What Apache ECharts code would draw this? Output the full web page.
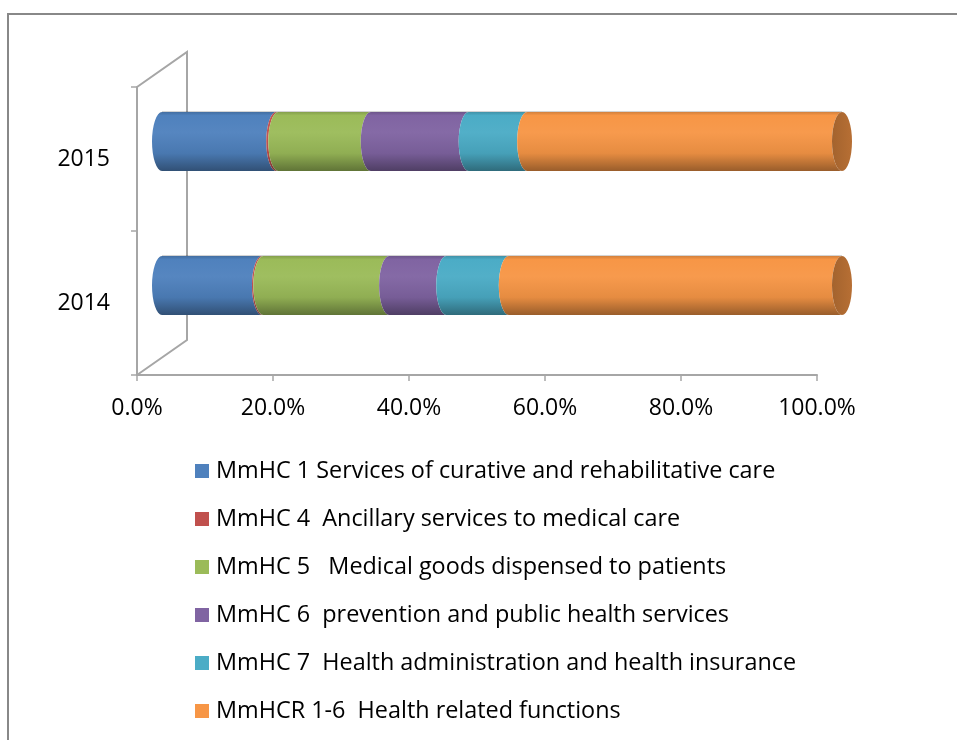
<!DOCTYPE html>
<html>
<head>
<meta charset="utf-8">
<script src="https://cdn.jsdelivr.net/npm/echarts@6/dist/echarts.min.js"></script>
<style>
  html, body { margin: 0; padding: 0; background: #ffffff; }
  #chart { width: 957px; height: 740px; }
</style>
</head>
<body>
<div id="chart"></div>
<script>
// Categories (bottom to top)
const years = ['2014', '2015'];

// Share of each function in total expenditure, percent
const seriesNames = [
  'MmHC 1 Services of curative and rehabilitative care',
  'MmHC 4  Ancillary services to medical care',
  'MmHC 5   Medical goods dispensed to patients',
  'MmHC 6  prevention and public health services',
  'MmHC 7  Health administration and health insurance',
  'MmHCR 1-6  Health related functions'
];
const mmhc1 = [14.7, 16.8];
const mmhc4 = [0.2, 0.3];
const mmhc5 = [18.5, 13.6];
const mmhc6 = [8.4, 14.4];
const mmhc7 = [9.2, 8.6];
const mmhcr = [49.0, 46.3];
const seriesValues = [mmhc1, mmhc4, mmhc5, mmhc6, mmhc7, mmhcr];

const palette = ['#4F81BD', '#C0504D', '#9BBB59', '#8064A2', '#4BACC6', '#F79646'];

// 3-D look: depth of the side wall, bars sit half way into it
const DEPTH_X = 50, DEPTH_Y = -35;
const CAP_RX = 10;
const FONT = '"Open Sans", Lato, sans-serif';

function shade(hex, f) {
  const n = parseInt(hex.slice(1), 16);
  let rgb = [(n >> 16) & 255, (n >> 8) & 255, n & 255];
  rgb = rgb.map(v => f <= 1 ? Math.round(v * f) : Math.round(v + (255 - v) * (f - 1)));
  return 'rgb(' + rgb.join(',') + ')';
}

function bodyFill(c) {
  return new echarts.graphic.LinearGradient(0, 0, 0, 1, [
    { offset: 0.00, color: shade(c, 0.85) },
    { offset: 0.06, color: shade(c, 1.00) },
    { offset: 0.35, color: shade(c, 1.04) },
    { offset: 0.70, color: shade(c, 0.93) },
    { offset: 1.00, color: shade(c, 0.62) }
  ]);
}

// Stack the shares into [start, end, categoryIndex] spans
const cumulative = years.map(() => 0);
const spans = seriesValues.map(vals => vals.map((v, i) => {
  const s = cumulative[i];
  cumulative[i] += v;
  return [s, cumulative[i], i];
}));

const LAST_SERIES = seriesValues.length; // index 0 is the wall

function renderCylinder(params, api) {
  const s = api.value(0), e = api.value(1), cat = api.value(2);
  const p0 = api.coord([s, cat]);
  const p1 = api.coord([e, cat]);
  const band = api.size([0, 1])[1];
  const r = band * 0.205;
  const xs = p0[0] + DEPTH_X / 2, xe = p1[0] + DEPTH_X / 2;
  const cy = p0[1] + DEPTH_Y / 2;
  const top = cy - r, bot = cy + r;
  const a = CAP_RX;
  const color = palette[params.seriesIndex - 1];
  const d = 'M' + xs + ',' + top + ' L' + xe + ',' + top +
            ' A' + a + ',' + r + ' 0 0 0 ' + xe + ',' + bot +
            ' L' + xs + ',' + bot +
            ' A' + a + ',' + r + ' 0 0 1 ' + xs + ',' + top + ' Z';
  const children = [{
    type: 'path',
    shape: { pathData: d },
    style: { fill: bodyFill(color) }
  }];
  if (params.seriesIndex === LAST_SERIES) {
    const cap = 'M' + xe + ',' + top +
                ' A' + a + ',' + r + ' 0 0 1 ' + xe + ',' + bot +
                ' A' + a + ',' + r + ' 0 0 1 ' + xe + ',' + top + ' Z';
    children.push({
      type: 'path',
      shape: { pathData: cap },
      style: {
        fill: new echarts.graphic.LinearGradient(0, 0, 1, 0, [
          { offset: 0, color: shade(color, 0.66) },
          { offset: 1, color: shade(color, 0.74) }
        ])
      }
    });
    // faint rim along the top edge of the whole cylinder
    const x0 = api.coord([0, cat])[0] + DEPTH_X / 2;
    children.push({
      type: 'line',
      shape: { x1: x0, y1: top - 0.5, x2: xe, y2: top - 0.5 },
      style: { stroke: 'rgba(0,0,0,0.18)', lineWidth: 1 }
    });
  }
  return { type: 'group', children: children };
}

function renderWall(params) {
  const cs = params.coordSys;
  return {
    type: 'polyline',
    shape: {
      points: [
        [cs.x, cs.y + cs.height],
        [cs.x + DEPTH_X, cs.y + cs.height + DEPTH_Y],
        [cs.x + DEPTH_X, cs.y + DEPTH_Y],
        [cs.x, cs.y]
      ]
    },
    style: { fill: 'none', stroke: '#A6A6A6', lineWidth: 2 }
  };
}

const chart = echarts.init(document.getElementById('chart'), null, { renderer: 'canvas' });

const series = [{
  type: 'custom',
  name: 'wall',
  renderItem: renderWall,
  data: [[0, 0]],
  itemStyle: { color: '#A6A6A6' },
  silent: true,
  clip: false,
  z: 1
}].concat(seriesNames.map((name, k) => ({
  type: 'custom',
  name: name,
  renderItem: renderCylinder,
  encode: { x: [0, 1], y: 2 },
  data: spans[k],
  itemStyle: { color: palette[k] },
  clip: false,
  z: 2
})));

chart.setOption({
  animation: false,
  textStyle: { fontFamily: FONT },
  graphic: [{
    type: 'rect',
    x: 8, y: 14,
    shape: { width: 1000, height: 800 },
    style: { fill: 'none', stroke: '#888888', lineWidth: 2 },
    silent: true
  }],
  grid: { left: 137, right: 140, top: 87, bottom: 365 },
  xAxis: {
    type: 'value',
    min: 0, max: 100, interval: 20,
    axisLine: { show: true, lineStyle: { color: '#A6A6A6', width: 2 } },
    axisTick: { show: true, length: 6, lineStyle: { color: '#A6A6A6', width: 1.5 } },
    splitLine: { show: false },
    axisLabel: {
      margin: 22,
      fontSize: 23,
      color: '#000000',
      fontFamily: FONT,
      formatter: v => v.toFixed(1) + '%'
    }
  },
  yAxis: {
    type: 'category',
    data: years,
    axisLine: { show: true, lineStyle: { color: '#A6A6A6', width: 2 } },
    axisTick: { show: true, length: 6, lineStyle: { color: '#A6A6A6', width: 1.5 } },
    axisLabel: { margin: 27, fontSize: 23, color: '#000000', fontFamily: FONT }
  },
  legend: {
    data: seriesNames,
    orient: 'vertical',
    left: 190,
    top: 454,
    icon: 'rect',
    itemWidth: 14,
    itemHeight: 14,
    itemGap: 24,
    selectedMode: false,
    textStyle: {
      fontSize: 23.4,
      lineHeight: 24,
      padding: [0, 0, 0, 2],
      color: '#000000',
      fontFamily: FONT
    }
  },
  series: series
});
</script>
</body>
</html>
